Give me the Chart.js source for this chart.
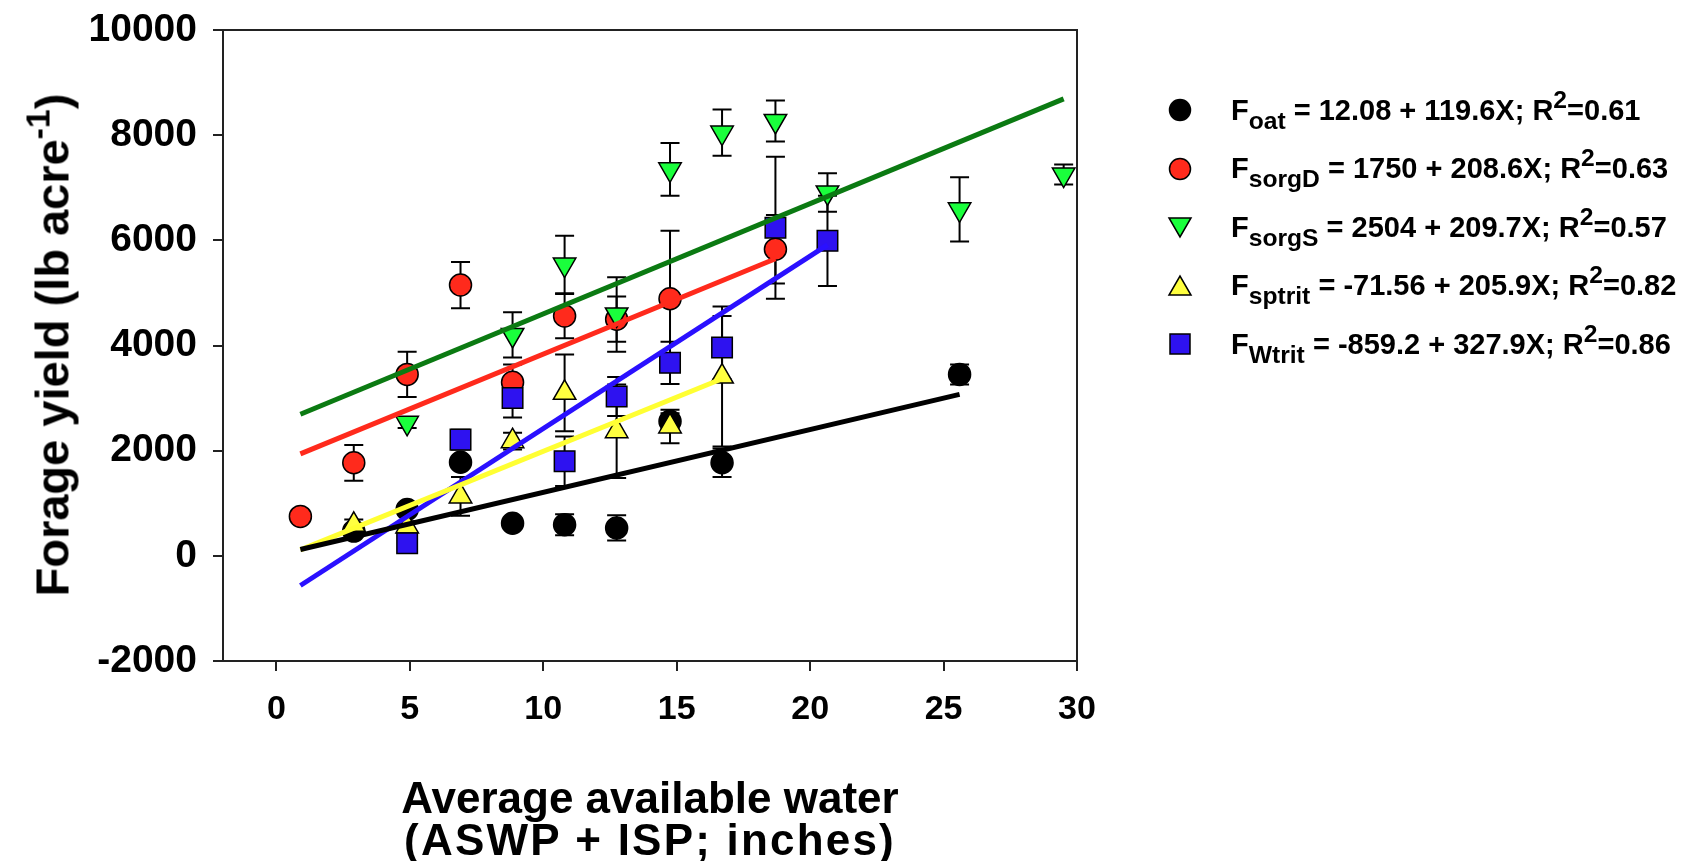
<!DOCTYPE html>
<html>
<head>
<meta charset="utf-8">
<script src="https://cdn.jsdelivr.net/npm/chart.js@4.4.1/dist/chart.umd.min.js"></script>
<style>
  html, body { margin: 0; padding: 0; background: #fff; }
  #wrap { position: relative; width: 1689px; height: 861px; overflow: hidden; }
  #chart { position: absolute; left: 0; top: 0; }
  .title { position: absolute; font-family: "Liberation Sans", Arial, sans-serif; font-weight: bold; color: #000; white-space: nowrap; }
  #ytitle { left: 52px; top: 345px; font-size: 47px; transform: translate(-50%, -50%) rotate(-90deg); }
  #ytitle sup { font-size: 0.72em; vertical-align: 0.55em; line-height: 0; }
  #xtitle1 { left: 650px; top: 798px; font-size: 44px; transform: translate(-50%, -50%); }
  #xtitle2 { left: 650px; top: 840px; font-size: 44px; letter-spacing: 2.2px; transform: translate(-50%, -50%); }
  #legend {
    position: absolute; left: 1160px; top: 81px;
    font-family: "Liberation Sans", Arial, sans-serif; font-weight: bold; font-size: 29px; color: #000;
  }
  .row { height: 58.5px; display: flex; align-items: center; white-space: nowrap; }
  .row svg { width: 40px; height: 30px; margin-right: 31px; flex: none; }
  .row sub { font-size: 0.85em; vertical-align: -0.38em; line-height: 0; }
  .row sup { font-size: 0.85em; vertical-align: 0.5em; line-height: 0; }
</style>
</head>
<body>
<div id="wrap">
  <canvas id="chart" width="1689" height="861"></canvas>
  <div class="title" id="ytitle">Forage yield (lb acre<sup>-1</sup>)</div>
  <div class="title" id="xtitle1">Average available water</div>
  <div class="title" id="xtitle2">(ASWP + ISP; inches)</div>
  <div id="legend"></div>
</div>
<script>
// axis ticks
const xTicks = [0, 5, 10, 15, 20, 25, 30];
const yTicks = [-2000, 0, 2000, 4000, 6000, 8000, 10000];

// oat
const oatX = [2.9, 4.9, 6.9, 8.85, 10.8, 12.75, 14.75, 16.7, 25.6];
const oatY = [470, 880, 1780, 620, 590, 530, 2560, 1770, 3450];
const oatErr = [100, 100, 100, 80, 200, 240, 150, 270, 190];
const oatFitX = [0.9, 25.6];
const oatFitY = [120, 3070];

// sorghum D
const sorgDX = [0.9, 2.9, 4.9, 6.9, 8.85, 10.8, 12.75, 14.75, 18.7];
const sorgDY = [750, 1770, 3450, 5150, 3300, 4560, 4500, 4890, 5830];
const sorgDErr = [60, 340, 430, 440, 340, 420, 430, 1290, 650];
const sorgDFitX = [0.9, 18.7];
const sorgDFitY = [1940, 5650];

// sorghum S
const sorgSX = [4.9, 8.85, 10.8, 12.75, 14.75, 16.7, 18.7, 20.65, 25.6, 29.5];
const sorgSY = [2530, 4200, 5540, 4590, 7350, 8050, 8270, 6910, 6590, 7250];
const sorgSErr = [100, 430, 545, 710, 500, 440, 390, 365, 610, 190];
const sorgSFitX = [0.9, 29.5];
const sorgSFitY = [2693, 8690];

// spring triticale
const sptritX = [2.9, 4.9, 6.9, 8.85, 10.8, 12.75, 14.75, 16.7];
const sptritY = [590, 560, 1130, 2180, 3100, 2370, 2460, 3410];
const sptritErr = [100, 100, 370, 160, 730, 890, 320, 1330];
const sptritFitX = [0.9, 16.7];
const sptritFitY = [114, 3367];

// winter triticale
const wtritX = [4.9, 6.9, 8.85, 10.8, 12.75, 14.75, 16.7, 18.7, 20.65];
const wtritY = [240, 2210, 3000, 1800, 3030, 3670, 3960, 6240, 5990];
const wtritErr = [60, 190, 370, 470, 370, 400, 600, 1350, 860];
const wtritFitX = [0.9, 20.65];
const wtritFitY = [-564, 5912];

const series = [
  { name: "oat", sub: "oat", eq: " = 12.08 + 119.6X; R", r2: "=0.61", xs: oatX, ys: oatY, err: oatErr, fx: oatFitX, fy: oatFitY,
    shape: "circle", rot: 0, radius: 11, fill: "#000000", line: "#000000", order: 5 },
  { name: "sorgD", sub: "sorgD", eq: " = 1750 + 208.6X; R", r2: "=0.63", xs: sorgDX, ys: sorgDY, err: sorgDErr, fx: sorgDFitX, fy: sorgDFitY,
    shape: "circle", rot: 0, radius: 11, fill: "#ff2a1c", line: "#ff2a1c", order: 4 },
  { name: "sorgS", sub: "sorgS", eq: " = 2504 + 209.7X; R", r2: "=0.57", xs: sorgSX, ys: sorgSY, err: sorgSErr, fx: sorgSFitX, fy: sorgSFitY,
    shape: "triangle", rot: 180, radius: 13, fill: "#1aff3c", line: "#0b7a12", order: 3 },
  { name: "sptrit", sub: "sptrit", eq: " = -71.56 + 205.9X; R", r2: "=0.82", xs: sptritX, ys: sptritY, err: sptritErr, fx: sptritFitX, fy: sptritFitY,
    shape: "triangle", rot: 0, radius: 13, fill: "#ffff40", line: "#ffff33", order: 2 },
  { name: "Wtrit", sub: "Wtrit", eq: " = -859.2 + 327.9X; R", r2: "=0.86", xs: wtritX, ys: wtritY, err: wtritErr, fx: wtritFitX, fy: wtritFitY,
    shape: "rect", rot: 0, radius: 14.5, fill: "#2e12f0", line: "#2a10ff", order: 1 }
];

function pts(xs, ys) {
  return xs.map((x, i) => ({ x: x, y: ys[i] }));
}

const datasets = [];
series.forEach(s => {
  datasets.push({
    type: "scatter",
    label: s.name,
    data: pts(s.xs, s.ys),
    errors: s.err,
    pointStyle: s.shape,
    rotation: s.rot,
    pointRadius: s.radius,
    pointHoverRadius: s.radius,
    backgroundColor: s.fill,
    borderColor: "#000000",
    pointBorderWidth: 1.5,
    order: s.order + 1,
    clip: false
  });
});
series.forEach(s => {
  datasets.push({
    type: "line",
    label: s.name + " fit",
    data: pts(s.fx, s.fy),
    borderColor: s.line,
    borderWidth: 5,
    pointRadius: 0,
    fill: false,
    order: 0
  });
});

// error bars under the markers, drawn through the scales
const errorBars = {
  id: "errorBars",
  beforeDatasetsDraw(chart) {
    const ctx = chart.ctx;
    const xs = chart.scales.x, ys = chart.scales.y;
    ctx.save();
    ctx.strokeStyle = "#000";
    ctx.lineWidth = 2;
    chart.data.datasets.forEach(ds => {
      if (!ds.errors) return;
      ds.data.forEach((p, i) => {
        const e = ds.errors[i];
        const px = xs.getPixelForValue(p.x);
        const top = ys.getPixelForValue(p.y + e);
        const bot = ys.getPixelForValue(p.y - e);
        ctx.beginPath();
        ctx.moveTo(px, top); ctx.lineTo(px, bot);
        ctx.moveTo(px - 9.5, top); ctx.lineTo(px + 9.5, top);
        ctx.moveTo(px - 9.5, bot); ctx.lineTo(px + 9.5, bot);
        ctx.stroke();
      });
    });
    ctx.restore();
  },
  afterDraw(chart) {
    const a = chart.chartArea, ctx = chart.ctx;
    ctx.save();
    ctx.strokeStyle = "#222";
    ctx.lineWidth = 2;
    ctx.beginPath();
    ctx.moveTo(a.left, a.top); ctx.lineTo(a.right, a.top); ctx.lineTo(a.right, a.bottom);
    ctx.stroke();
    ctx.restore();
  }
};

const tickFont = { family: "'Liberation Sans', Arial, sans-serif", weight: "bold" };

new Chart(document.getElementById("chart"), {
  data: { datasets: datasets },
  options: {
    responsive: false,
    animation: false,
    events: [],
    layout: { padding: { left: 0, top: 30, right: 612, bottom: 0 } },
    plugins: { legend: { display: false }, tooltip: { enabled: false } },
    scales: {
      x: {
        type: "linear",
        min: -2, max: 30,
        afterBuildTicks: sc => { sc.ticks = xTicks.map(v => ({ value: v })); },
        afterFit: sc => { sc.height = 200; sc.paddingLeft = 0; sc.paddingRight = 0; },
        grid: { drawOnChartArea: false, drawTicks: true, tickLength: 10, color: "#222", lineWidth: 2 },
        border: { display: true, color: "#222", width: 2 },
        ticks: { color: "#000", font: Object.assign({ size: 34 }, tickFont), padding: 18, maxRotation: 0,
                 callback: v => String(v) }
      },
      y: {
        type: "linear",
        min: -2000, max: 10000,
        afterBuildTicks: sc => { sc.ticks = yTicks.map(v => ({ value: v })); },
        afterFit: sc => { sc.width = 223; sc.paddingTop = 0; sc.paddingBottom = 0; },
        grid: { drawOnChartArea: false, drawTicks: true, tickLength: 10, color: "#222", lineWidth: 2 },
        border: { display: true, color: "#222", width: 2 },
        ticks: { color: "#000", font: Object.assign({ size: 39 }, tickFont), padding: 16,
                 callback: v => String(v) }
      }
    }
  },
  plugins: [errorBars]
});

// legend with sub/superscripts
function markerSvg(s) {
  const c = 'fill="' + s.fill + '" stroke="#000" stroke-width="1.5"';
  if (s.shape === "circle") return '<svg viewBox="0 0 40 30"><circle cx="20" cy="15" r="10.5" ' + c + '/></svg>';
  if (s.shape === "rect") return '<svg viewBox="0 0 40 30"><rect x="10" y="5" width="20" height="20" ' + c + '/></svg>';
  if (s.rot === 180) return '<svg viewBox="0 0 40 30"><polygon points="9,6 31,6 20,25" ' + c + '/></svg>';
  return '<svg viewBox="0 0 40 30"><polygon points="9,24 31,24 20,5" ' + c + '/></svg>';
}
const legend = document.getElementById("legend");
series.forEach(s => {
  const row = document.createElement("div");
  row.className = "row";
  row.innerHTML = markerSvg(s) + '<span>F<sub>' + s.sub + '</sub>' + s.eq + '<sup>2</sup>' + s.r2 + '</span>';
  legend.appendChild(row);
});
</script>
</body>
</html>
